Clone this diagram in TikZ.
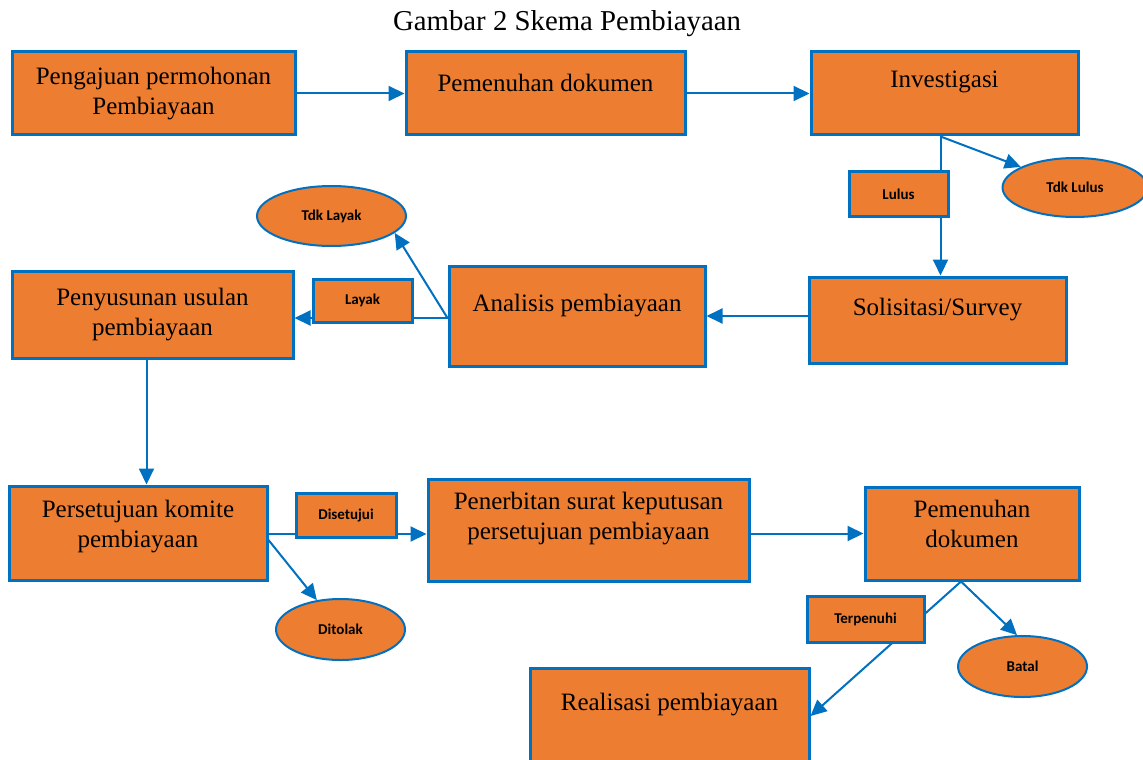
\documentclass[tikz,border=0pt]{standalone}
\usepackage{fontspec}
\setmainfont{Liberation Serif}
\newfontfamily\tagfont{Carlito}
\usetikzlibrary{shapes.geometric,arrows.meta}
\definecolor{boxorange}{HTML}{ED7D31}
\definecolor{boxblue}{HTML}{0070C0}
\tikzset{
  scheme/.style={
    x=0.5pt, 
    y=-0.5pt,
    >={Triangle[length=8pt,width=7.5pt]},
  },
  dim/.style 2 args={minimum width=#1, minimum height=#2},
  box/.style={
    draw=boxblue, 
    line width=1.5pt, 
    fill=boxorange, 
    align=center,
    inner sep=0pt,
    font=\fontsize{12.5}{15}\selectfont
  },
  tag/.style={
    draw=boxblue, 
    line width=1.5pt, 
    fill=boxorange, 
    inner sep=0pt,
    font=\tagfont\bfseries\fontsize{7.5}{9}\selectfont
  },
  oval/.style={
    ellipse,
    draw=boxblue, 
    line width=1pt, 
    fill=boxorange, 
    inner sep=0pt,
    font=\tagfont\bfseries\fontsize{7.5}{9}\selectfont
  },
  flow/.style={draw=boxblue, line width=1pt, ->}
}

\begin{document}
\begin{tikzpicture}[scheme]
\path[use as bounding box, clip] (0,0) rectangle (1143,759);
\node (title) at (567,24) {\fontsize{14.4}{17}\selectfont Gambar 2 Skema Pembiayaan};
% main steps
\node[box, dim={141.5pt}{41.5pt}] (aju) at (153.5,93.5) {Pengajuan permohonan\\Pembiayaan};
\node[box, dim={139.5pt}{41.5pt}, text depth=11pt] (dok) at (545.5,93.5) {Pemenuhan dokumen};
\node[box, dim={133.5pt}{41.5pt}, text depth=14pt] (inv) at (944.5,93.5) {Investigasi};
\node[box, dim={128.5pt}{43pt}, text depth=13pt] (sol) at (937.5,320) {Solisitasi/Survey};
\node[box, dim={128pt}{50pt}, text depth=13pt] (ana) at (577,316) {Analisis pembiayaan};
\node[box, dim={140.5pt}{43.5pt}] (usul) at (152.5,314.5) {Penyusunan usulan\\pembiayaan};
\node[box, dim={129pt}{47pt}, text depth=9pt] (kom) at (138,533) {Persetujuan komite\\pembiayaan};
\node[box, dim={160.5pt}{51pt}, text depth=14pt] (srt) at (588.5,530) {Penerbitan surat keputusan\\persetujuan pembiayaan};
\node[box, dim={107pt}{46.5pt}, text depth=10pt] (dok2) at (972,533.5) {Pemenuhan\\dokumen};
\node[box, dim={139.5pt}{48pt}, text depth=14pt] (real) at (669.5,716) {Realisasi pembiayaan};
% outcomes
\node[oval, dim={72.5pt}{29.5pt}] (tdklulus) at (1075,187.5) {Tdk Lulus};
\node[oval, dim={74.5pt}{30pt}] (tdklayak) at (331.5,216) {Tdk Layak};
\node[oval, dim={64.5pt}{30.5pt}] (ditolak) at (340.5,629.5) {Ditolak};
\node[oval, dim={64.5pt}{30.5pt}] (batal) at (1022.5,666.5) {Batal};
\coordinate (split) at ([xshift=-5.5pt]dok2.south);
% connectors
\draw[flow] (aju.east) -- (aju.east -| dok.west);
\draw[flow] (dok.east) -- (dok.east -| inv.west);
\draw[flow] ([xshift=-2pt]inv.south) -- ([xshift=-2pt]inv.south |- sol.north);
\draw[flow] ([xshift=-2pt]inv.south) -- (tdklulus);
\draw[flow] (sol.west |- ana.east) -- (ana.east);
\draw[flow] ([yshift=-1pt]ana.west) -- ([yshift=-1pt]ana.west -| usul.east);
\draw[flow] ([yshift=-1pt]ana.west) -- (tdklayak.-15);
\draw[flow] ([xshift=-3pt]usul.south) -- ([xshift=-3pt]usul.south |- kom.north);
\draw[flow] ([yshift=-0.5pt]kom.east) -- ([yshift=-0.5pt]kom.east -| srt.west);
\draw[flow] ([yshift=-3.5pt]kom.east) -- (ditolak);
\draw[flow] (dok2.west -| srt.east) -- (dok2.west);
\draw[flow] (split) -- (batal.100);
\draw[flow] (split) -- (real.east);
% labels on the connectors
\node[tag, dim={49.5pt}{22pt}] (lulus) at (898.5,194) {Lulus};
\node[tag, dim={49.5pt}{21.5pt}] (layak) at (362.5,300.5) {Layak};
\node[tag, dim={50pt}{22pt}] (setuju) at (346,515) {Disetujui};
\node[tag, dim={58.5pt}{23pt}] (penuhi) at (865.5,619) {Terpenuhi};
\end{tikzpicture}
\end{document}
